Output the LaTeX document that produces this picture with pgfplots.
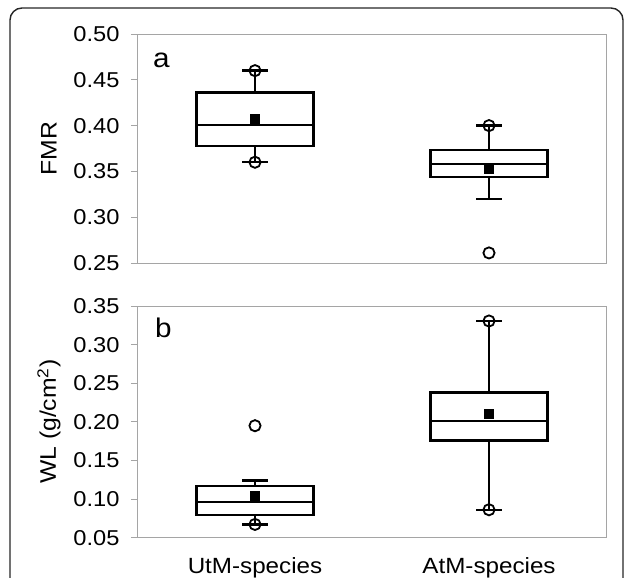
\documentclass[border=0pt]{standalone}
\usepackage{pgfplots}
\pgfplotsset{compat=1.18}
\usepackage{fontspec}
\setmainfont[FakeStretch=1.1]{Liberation Sans}
\definecolor{axgray}{RGB}{165,165,165}

\pgfplotsset{
  boxpanel/.style={
    scale only axis, width=468pt,
    xmin=0.5, xmax=2.5,
    axis line style={axgray, line width=1pt},
    ytick pos=left, tick align=outside,
    major tick length=7pt,
    ytick style={axgray, line width=1pt},
    xtick style={draw=none},
    yticklabel style={font=\fontsize{21.5}{24}\selectfont, xshift=-8pt,
      /pgf/number format/fixed, /pgf/number format/fixed zerofill,
      /pgf/number format/precision=2, /pgf/number format/assume math mode=true},
    every axis y label/.style={at={([xshift=-89pt]rel axis cs:0,0.5)},
      rotate=90, anchor=center, font=\fontsize{22.5}{26}\selectfont},
    clip=false,
  },
  bxl/.style={black, line width=2.3pt, mark=none, line join=miter, forget plot},
  outl/.style={only marks, mark=o, mark size=5.6pt, black, line width=1.8pt},
  avg/.style={only marks, mark=square*, mark size=4.5pt, black},
}

% box: position, lower whisker, Q1, median, Q3, upper whisker
\newcommand\boxp[6]{%
  \pgfmathsetmacro\bl{#1-0.25}\pgfmathsetmacro\br{#1+0.25}%
  \pgfmathsetmacro\cl{#1-0.0535}\pgfmathsetmacro\cr{#1+0.0535}%
  \addplot[bxl] coordinates {(\bl,#3) (\br,#3) (\br,#5) (\bl,#5) (\bl,#3) (\br,#3)};
  \addplot[bxl] coordinates {(\bl,#4) (\br,#4)};
  \addplot[bxl] coordinates {(#1,#5) (#1,#6)};
  \addplot[bxl] coordinates {(\cl,#6) (\cr,#6)};
  \addplot[bxl] coordinates {(#1,#3) (#1,#2)};
  \addplot[bxl] coordinates {(\cl,#2) (\cr,#2)};
}

\begin{document}
\begin{tikzpicture}
\useasboundingbox (0,0) rectangle (625pt,-578pt);
\draw[line width=1.4pt, black!85, rounded corners=12pt] (10pt,-8pt) rectangle (623pt,-620pt);

% panel a
\begin{axis}[boxpanel, at={(138pt,-263pt)}, anchor=south west, height=229pt,
  ymin=0.25, ymax=0.50, ytick={0.25,0.30,0.35,0.40,0.45,0.50},
  xtick=\empty, ylabel={FMR}]
  \boxp{1}{0.36}{0.378}{0.401}{0.436}{0.46}
  \boxp{2}{0.320}{0.3436}{0.358}{0.3734}{0.40}
  \addplot[outl] coordinates {(1,0.46) (1,0.36) (2,0.40) (2,0.261)};
  \addplot[avg] coordinates {(1,0.408) (2,0.3534)};
  \node[anchor=base west, font=\fontsize{27}{30}\selectfont, inner sep=0pt]
    at (rel axis cs:0.032,0.852) {a};
\end{axis}

% panel b
\begin{axis}[boxpanel, at={(138pt,-537.7pt)}, anchor=south west, height=231.7pt,
  ymin=0.05, ymax=0.35, ytick={0.05,0.10,0.15,0.20,0.25,0.30,0.35},
  xtick={1,2}, xticklabels={UtM-species,AtM-species},
  xticklabel style={font=\fontsize{22}{24}\selectfont, yshift=-9pt},
  ylabel={WL (g/cm\textsuperscript{2})}]
  \boxp{1}{0.0672}{0.0797}{0.0965}{0.1173}{0.1242}
  \boxp{2}{0.0862}{0.176}{0.2015}{0.2382}{0.3306}
  \addplot[outl] coordinates {(1,0.195) (1,0.0672) (2,0.3306) (2,0.0862)};
  \addplot[avg] coordinates {(1,0.104) (2,0.211)};
  \node[anchor=base west, font=\fontsize{27}{30}\selectfont, inner sep=0pt]
    at (rel axis cs:0.036,0.862) {b};
\end{axis}
\end{tikzpicture}
\end{document}
